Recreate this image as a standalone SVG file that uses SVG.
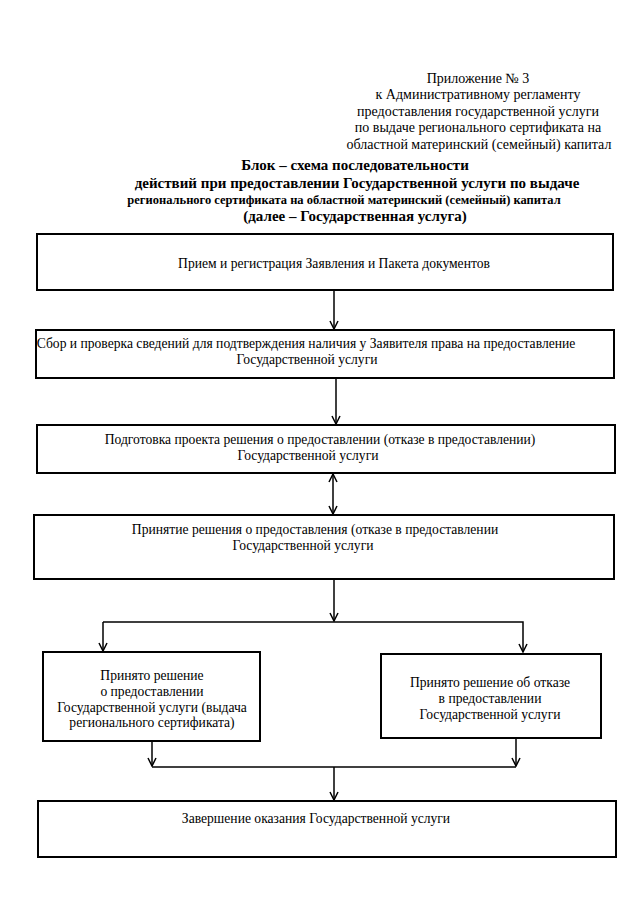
<svg xmlns="http://www.w3.org/2000/svg" width="640" height="905" viewBox="0 0 640 905">
<defs>
<style>
text{font-family:"Liberation Serif","Times New Roman",serif;fill:#000}
.h{font-size:14px}
.b{font-weight:bold;font-size:15px}
.b2{font-weight:bold;font-size:12.5px}
.n{font-size:13.6px}
.box{fill:#fff;stroke:#000;stroke-width:2}
.c{fill:none;stroke:#000;stroke-width:1.5}
</style>
<marker id="ah" markerWidth="10" markerHeight="10" refX="9" refY="5" orient="auto-start-reverse" markerUnits="userSpaceOnUse">
<path d="M1,1 L9,5 L1,9" fill="none" stroke="#000" stroke-width="1.5"/>
</marker>
</defs>
<rect width="640" height="905" fill="#fff"/>
<g id="header" class="h" text-anchor="middle" font-family="Liberation Serif, serif">
<text x="478" y="83">Приложение № 3</text>
<text x="478" y="99">к Административному регламенту</text>
<text x="478" y="116">предоставления государственной услуги</text>
<text x="478" y="132">по выдаче регионального сертификата на</text>
<text x="479" y="149">областной материнский (семейный) капитал</text>
</g>
<g id="title" text-anchor="middle" font-family="Liberation Serif, serif">
<text class="b" x="355" y="170">Блок – схема последовательности</text>
<text class="b" x="357" y="188">действий при предоставлении Государственной услуги по выдаче</text>
<text class="b2" x="344" y="204">регионального сертификата на областной материнский (семейный) капитал</text>
<text class="b" x="355" y="221">(далее – Государственная услуга)</text>
</g>
<g id="connectors" class="c">
<line x1="334" y1="290" x2="334" y2="329" marker-end="url(#ah)"/>
<line x1="336" y1="378" x2="336" y2="424" marker-end="url(#ah)"/>
<line x1="333" y1="474" x2="333" y2="514" marker-start="url(#ah)" marker-end="url(#ah)"/>
<line x1="334" y1="579" x2="334" y2="621" marker-end="url(#ah)"/>
<polyline points="103,622 523,622 523,652" marker-end="url(#ah)"/>
<line x1="103" y1="622" x2="103" y2="651" marker-end="url(#ah)"/>
<line x1="152" y1="741" x2="152" y2="766" marker-end="url(#ah)"/>
<line x1="516" y1="738" x2="516" y2="766" marker-end="url(#ah)"/>
<line x1="152" y1="767" x2="516" y2="767"/>
<line x1="334" y1="767" x2="334" y2="800" marker-end="url(#ah)"/>
</g>
<g id="n1" font-family="Liberation Serif, serif" class="n">
<rect class="box" x="37" y="234" width="576" height="56"/>
<text x="334" y="268" text-anchor="middle">Прием и регистрация Заявления и Пакета документов</text>
</g>
<g id="n2" font-family="Liberation Serif, serif" class="n">
<rect class="box" x="36" y="330" width="578" height="48"/>
<text x="306" y="348" text-anchor="middle">Сбор и проверка сведений для подтверждения наличия у Заявителя права на предоставление</text>
<text x="307" y="364" text-anchor="middle">Государственной услуги</text>
</g>
<g id="n3" font-family="Liberation Serif, serif" class="n">
<rect class="box" x="37" y="425" width="578" height="48"/>
<text x="320" y="444" text-anchor="middle">Подготовка проекта решения о предоставлении (отказе в предоставлении)</text>
<text x="308" y="460" text-anchor="middle">Государственной услуги</text>
</g>
<g id="n4" font-family="Liberation Serif, serif" class="n">
<rect class="box" x="34" y="515" width="580" height="64"/>
<text x="315" y="534" text-anchor="middle">Принятие решения о предоставления (отказе в предоставлении</text>
<text x="303" y="550" text-anchor="middle">Государственной услуги</text>
</g>
<g id="n5" font-family="Liberation Serif, serif" class="n" text-anchor="middle">
<rect class="box" x="43" y="652" width="217" height="89"/>
<text x="152" y="680">Принято решение</text>
<text x="152" y="696">о предоставлении</text>
<text x="152" y="712">Государственной услуги (выдача</text>
<text x="152" y="727">регионального сертификата)</text>
</g>
<g id="n6" font-family="Liberation Serif, serif" class="n" text-anchor="middle">
<rect class="box" x="381" y="654" width="220" height="84"/>
<text x="490" y="687">Принято решение об отказе</text>
<text x="490" y="703">в предоставлении</text>
<text x="490" y="719">Государственной услуги</text>
</g>
<g id="n7" font-family="Liberation Serif, serif" class="n">
<rect class="box" x="38" y="801" width="578" height="56"/>
<text x="316" y="823" text-anchor="middle">Завершение оказания Государственной услуги</text>
</g>
</svg>
